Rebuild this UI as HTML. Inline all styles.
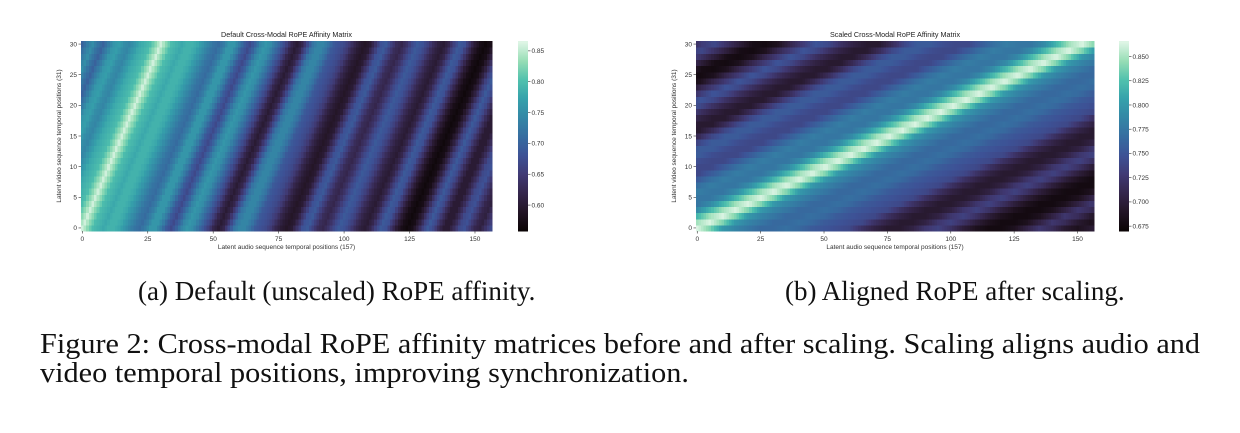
<!DOCTYPE html>
<html><head><meta charset="utf-8"><style>
body{margin:0;background:#fff;width:1240px;height:433px;overflow:hidden;position:relative;font-family:"Liberation Serif",serif}
svg{position:absolute;left:0;top:0}
.cap{position:absolute;font-size:27px;line-height:30px;color:#111;white-space:nowrap}
.fig{position:absolute;left:40px;font-size:28px;line-height:29px;color:#111;white-space:nowrap;transform-origin:left top;display:inline-block}
</style></head><body>
<svg id="chart" width="1240" height="270" font-family="Liberation Sans, sans-serif"></svg>
<div class="cap" style="left:138px;top:276px">(a) Default (unscaled) RoPE affinity.</div>
<div class="cap" style="left:785px;top:276px">(b) Aligned RoPE after scaling.</div>
<div class="fig" id="fl1" style="top:330px">Figure 2: Cross-modal RoPE affinity matrices before and after scaling. Scaling aligns audio and</div>
<div class="fig" id="fl2" style="top:359px">video temporal positions, improving synchronization.</div>
<script>
// Data: affinity profile along diagonal offset d = audio - slope*video
const leftOffsetStart = -32, leftOffsetStep = 2;
const leftProfile = [0.69,0.70,0.73,0.75,0.72,0.70,0.73,0.76,0.77,0.75,0.74,0.76,0.78,0.79,0.80,0.83,
0.86,0.83,0.80,0.79,0.78,0.79,0.79,0.78,0.76,0.74,0.72,0.71,0.73,0.76,0.76,0.73,0.69,0.67,0.70,0.74,0.76,0.75,0.72,0.69,0.66,0.62,0.60,0.62,0.67,0.72,0.74,0.74,0.72,0.69,0.68,0.67,0.65,0.62,0.60,0.59,0.60,0.64,0.68,0.69,0.66,0.63,0.62,0.64,0.67,0.69,0.68,0.66,0.63,0.61,0.60,0.62,0.66,0.69,0.68,0.64,0.60,0.575,0.565,0.575,0.61,0.66,0.69,0.67,0.63,0.60,0.60,0.63,0.67,0.68,0.65,0.62,0.61,0.64,0.67,0.68];
const leftSlope = 1.0;
const rightOffsetStart = -160, rightOffsetStep = 5;
const rightProfile = [0.69,0.71,0.73,0.74,0.72,0.70,0.68,0.677,0.685,0.71,0.73,0.75,0.74,0.72,0.705,0.695,0.695,0.715,0.74,0.755,0.755,0.745,0.74,0.74,0.755,0.77,0.78,0.775,0.775,0.79,0.82,0.85,0.865,0.84,0.80,0.785,0.775,0.765,0.765,0.77,0.765,0.755,0.75,0.745,0.74,0.72,0.705,0.695,0.695,0.705,0.725,0.735,0.72,0.70,0.685,0.677,0.677,0.685,0.705,0.725,0.715,0.695,0.685,0.695,0.705];
const rightSlope = 5.06;
const xTicks = [0,25,50,75,100,125,150];
const yTicks = [0,5,10,15,20,25,30];
const leftCbTicks = [0.60,0.65,0.70,0.75,0.80,0.85];
const rightCbTicks = [0.675,0.700,0.725,0.750,0.775,0.800,0.825,0.850];
const nAudio = 157, nVideo = 31;

// fit caption lines to reference widths
[['fl1',1160],['fl2',649]].forEach(([id,w])=>{const e=document.getElementById(id);const nw=e.getBoundingClientRect().width;e.style.transform=`scaleX(${w/nw})`;});

const mako = [[0,11,4,5],[0.1,35,21,38],[0.2,53,38,76],[0.3,64,58,117],[0.4,61,82,150],[0.5,54,109,160],[0.6,52,135,166],[0.7,53,161,171],[0.8,80,193,173],[0.9,150,221,181],[1,222,245,229]];
function cmap(t){t=Math.max(0,Math.min(1,t));for(let i=1;i<mako.length;i++){if(t<=mako[i][0]){const a=mako[i-1],b=mako[i],f=(t-a[0])/(b[0]-a[0]);return `rgb(${[1,2,3].map(k=>Math.round(a[k]+(b[k]-a[k])*f)).join(',')})`;}}return 'rgb(222,245,229)';}
function prof(arr,start,step,d){let p=(d-start)/step;p=Math.max(0,Math.min(arr.length-1,p));const i=Math.floor(p),f=p-i;const b=arr[Math.min(i+1,arr.length-1)];return arr[i]+(b-arr[i])*f;}
const svg=document.getElementById('chart');const NS='http://www.w3.org/2000/svg';
function el(tag,attrs,parent,text){const e=document.createElementNS(NS,tag);for(const k in attrs)e.setAttribute(k,attrs[k]);if(text!==undefined)e.textContent=text;(parent||svg).appendChild(e);return e;}

function drawPanel(o){
  const g=el('g',{});
  
  
  const W=o.x1-o.x0,H=o.y1-o.y0,cw=W/nAudio,ch=H/nVideo;
  const xS=a=>o.x0+a*cw, yS=v=>o.y1-v*ch;
  const cells=el('g',{'shape-rendering':'crispEdges'},g);
  
  
  for(let v=0;v<nVideo;v++)for(let a=0;a<nAudio;a++){
    const val=prof(o.profile,o.start,o.step,a-o.slope*v);
    const r=el('rect',{x:xS(a).toFixed(2),y:(yS(v+1)).toFixed(2),width:(cw+0.6).toFixed(2),height:(ch+0.6).toFixed(2),fill:cmap((val-o.vmin)/(o.vmax-o.vmin))},cells);
    
    
  }
  const fs=6.5,col='#333';
  xTicks.forEach(t=>{const x=xS(t+0.5);el('line',{x1:x,x2:x,y1:o.y1,y2:o.y1+2.5,stroke:col,'stroke-width':0.6},g);const tx=el('text',{x:x,y:o.y1+10,'font-size':fs,fill:col,'text-anchor':'middle'},g,t);});
  yTicks.forEach(t=>{const y=yS(t+0.5);el('line',{x1:o.x0-2.5,x2:o.x0,y1:y,y2:y,stroke:col,'stroke-width':0.6},g);const tx=el('text',{x:o.x0-4,y:y+2.3,'font-size':fs,fill:col,'text-anchor':'end'},g,t);});
  const xt=el('text',{x:(o.x0+o.x1)/2,y:o.y1+18,'font-size':6.5,fill:col,'text-anchor':'middle'},g,'Latent audio sequence temporal positions (157)');
  
  const yt=el('text',{x:0,y:0,'font-size':6.5,fill:col,'text-anchor':'middle',transform:`translate(${o.x0-20},${(o.y0+o.y1)/2}) rotate(-90)`},g,'Latent video sequence temporal positions (31)');
  
  const tt=el('text',{x:(o.x0+o.x1)/2,y:o.y0-4,'font-size':7.2,fill:'#222','text-anchor':'middle'},g,o.title);
  
  const cb=el('g',{'shape-rendering':'crispEdges'},g);
  
  const n=95;for(let i=0;i<n;i++){el('rect',{x:o.cbx,y:o.y1-(i+1)*H/n,width:10,height:H/n+0.5,fill:cmap(i/(n-1))},cb);}
  o.cbTicks.forEach(t=>{const y=o.y1-(t-o.vmin)/(o.vmax-o.vmin)*H;el('line',{x1:o.cbx+10,x2:o.cbx+12.5,y1:y,y2:y,stroke:col,'stroke-width':0.6},g);const tx=el('text',{x:o.cbx+13.5,y:y+2.3,'font-size':fs,fill:col},g,o.fmt(t));});
}
drawPanel({name:'default-heatmap',title:'Default Cross-Modal RoPE Affinity Matrix',x0:81,x1:492,y0:41,y1:231,profile:leftProfile,start:leftOffsetStart,step:leftOffsetStep,slope:leftSlope,vmin:0.558,vmax:0.866,cbx:518,cbTicks:leftCbTicks,fmt:t=>t.toFixed(2)});
drawPanel({name:'scaled-heatmap',title:'Scaled Cross-Modal RoPE Affinity Matrix',x0:696,x1:1094,y0:41,y1:231,profile:rightProfile,start:rightOffsetStart,step:rightOffsetStep,slope:rightSlope,vmin:0.670,vmax:0.866,cbx:1119,cbTicks:rightCbTicks,fmt:t=>t.toFixed(3)});
</script>
</body></html>
